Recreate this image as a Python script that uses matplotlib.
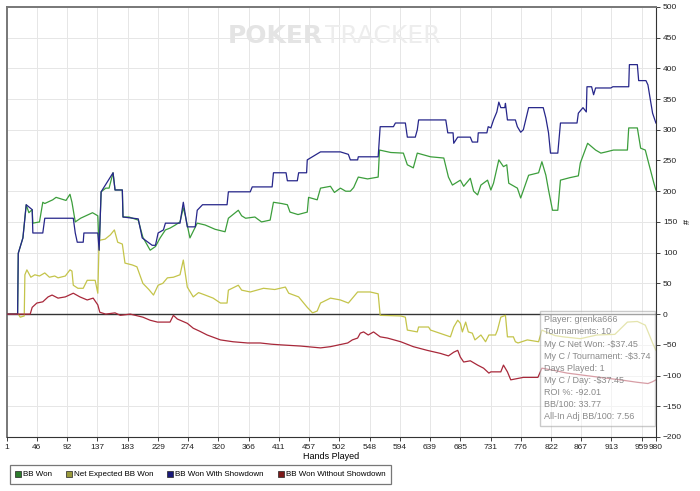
import numpy as np
import matplotlib
matplotlib.use("Agg")
import matplotlib.pyplot as plt
from matplotlib.lines import Line2D

plt.rcParams['font.family'] = ['Liberation Sans Narrow', 'Liberation Sans', 'DejaVu Sans']

# (hand, value) pairs
bb_won = [(1, 0), (17, 0), (18, 99), (25, 124), (30, 178), (34, 165), (39, 170), (40, 148), (50, 150),
          (55, 182), (58, 180), (70, 186), (75, 190), (90, 185), (96, 195), (99, 182), (104, 150),
          (112, 156), (120, 160), (130, 165), (138, 160), (140, 104), (143, 199), (150, 205), (155, 205),
          (161, 230), (164, 202), (175, 202), (176, 158), (185, 158), (199, 153), (206, 125), (217, 104),
          (225, 110), (232, 124), (240, 137), (247, 140), (255, 145), (262, 150), (267, 173), (270, 160),
          (277, 124), (288, 148), (300, 145), (315, 138), (330, 134), (335, 156), (350, 169), (355, 160),
          (361, 156), (375, 158), (385, 150), (398, 153), (403, 182), (415, 180), (424, 178), (428, 166),
          (440, 162), (454, 166), (456, 190), (469, 186), (474, 205), (489, 208), (495, 198), (504, 205),
          (512, 200), (519, 200), (524, 206), (531, 223), (545, 220), (561, 223), (563, 267), (580, 263),
          (599, 262), (605, 243), (614, 238), (620, 262), (640, 256), (660, 254), (667, 223), (673, 210),
          (685, 218), (690, 208), (700, 221), (705, 200), (711, 194), (716, 210), (726, 218), (731, 202),
          (735, 213), (743, 251), (750, 240), (755, 243), (758, 213), (771, 205), (776, 189), (788, 226),
          (803, 230), (808, 248), (814, 226), (818, 202), (824, 169), (832, 169), (836, 218), (850, 222),
          (863, 225), (866, 246), (877, 278), (889, 267), (897, 262), (905, 264), (916, 267), (937, 267),
          (939, 303), (952, 303), (957, 270), (964, 267), (969, 246), (977, 213), (980, 202)]

net_expected = [(1, 0), (18, 0), (21, -5), (27, -3), (28, 64), (31, 72), (37, 60), (43, 64), (50, 62),
                (58, 67), (65, 60), (73, 62), (78, 59), (89, 62), (96, 72), (99, 70), (101, 47), (108, 42),
                (116, 42), (122, 55), (134, 55), (138, 34), (140, 120), (149, 122), (157, 129), (163, 137),
                (168, 117), (175, 114), (179, 83), (190, 80), (197, 77), (206, 50), (215, 40), (222, 31),
                (229, 47), (236, 50), (243, 59), (252, 60), (262, 64), (267, 88), (273, 44), (282, 28),
                (290, 35), (300, 31), (312, 26), (323, 18), (333, 18), (335, 39), (350, 47), (355, 39),
                (368, 36), (388, 42), (405, 40), (421, 44), (426, 34), (441, 28), (454, 11), (462, 2),
                (469, 5), (474, 18), (489, 26), (504, 23), (516, 18), (530, 36), (549, 36), (561, 33),
                (564, -2), (595, -3), (602, -5), (605, -26), (620, -29), (622, -21), (637, -21), (640, -26),
                (670, -37), (675, -21), (681, -10), (685, -15), (688, -29), (693, -13), (697, -29),
                (703, -31), (707, -42), (716, -34), (723, -45), (728, -34), (738, -34), (741, -26),
                (746, -5), (753, -2), (756, -37), (765, -37), (768, -45), (772, -47), (786, -42),
                (803, -45), (808, -26), (816, -30), (828, -35), (840, -37), (866, -40), (891, -34),
                (918, -33), (937, -13), (952, -12), (964, -18), (969, -31), (975, -47), (980, -59)]

with_showdown = [(1, 0), (17, 0), (18, 99), (25, 124), (30, 178), (39, 170), (40, 132), (55, 132),
                 (58, 156), (101, 156), (104, 132), (107, 117), (116, 117), (117, 132), (138, 132),
                 (140, 104), (143, 199), (161, 230), (164, 202), (175, 202), (176, 158), (199, 155),
                 (205, 124), (220, 112), (225, 112), (229, 132), (237, 137), (240, 148), (262, 148),
                 (267, 182), (273, 142), (285, 142), (288, 169), (296, 178), (333, 178), (335, 199),
                 (368, 199), (371, 207), (401, 207), (403, 230), (422, 230), (424, 217), (439, 217),
                 (441, 230), (453, 230), (454, 251), (474, 264), (504, 264), (516, 260), (519, 251),
                 (530, 251), (531, 256), (561, 256), (564, 305), (584, 305), (587, 311), (602, 311),
                 (605, 288), (617, 288), (620, 300), (622, 316), (663, 316), (666, 295), (674, 295),
                 (675, 278), (681, 288), (700, 288), (703, 280), (711, 280), (712, 295), (725, 295),
                 (727, 305), (731, 303), (735, 316), (740, 329), (743, 345), (746, 336), (752, 336),
                 (753, 343), (756, 316), (768, 316), (771, 305), (776, 296), (780, 300), (788, 336),
                 (810, 336), (814, 319), (818, 295), (821, 262), (832, 262), (836, 311), (861, 311),
                 (863, 327), (870, 336), (875, 329), (876, 370), (883, 370), (886, 357), (889, 368),
                 (912, 368), (915, 370), (939, 370), (940, 406), (952, 406), (954, 380), (965, 380),
                 (968, 373), (971, 353), (975, 327), (980, 311)]

without_showdown = [(1, 0), (36, 0), (39, 11), (46, 18), (55, 20), (63, 28), (69, 31), (78, 26), (89, 28),
                    (101, 34), (111, 28), (122, 23), (131, 26), (138, 15), (141, 3), (150, 0), (164, 2),
                    (172, -2), (187, 0), (206, -5), (217, -10), (228, -13), (247, -13), (252, -2),
                    (258, -8), (273, -15), (282, -23), (292, -28), (303, -34), (313, -38), (323, -42),
                    (342, -45), (364, -47), (383, -47), (400, -49), (413, -50), (444, -52), (474, -55),
                    (489, -53), (515, -47), (522, -42), (530, -39), (534, -31), (539, -29), (546, -34),
                    (554, -29), (564, -37), (575, -39), (595, -45), (614, -53), (635, -59), (655, -64),
                    (667, -68), (675, -62), (681, -59), (685, -70), (690, -78), (700, -76), (711, -83),
                    (720, -88), (728, -96), (731, -94), (746, -94), (750, -83), (756, -94), (761, -107),
                    (780, -103), (802, -103), (808, -88), (828, -92), (846, -96), (896, -103),
                    (926, -107), (952, -111), (968, -113), (975, -110), (980, -107)]

x_ticks = [1, 46, 92, 137, 183, 229, 274, 320, 366, 411, 457, 502, 548, 594, 639, 685, 731, 776,
           822, 867, 913, 959, 980]
y_ticks = list(range(-200, 501, 50))

info_lines = ["Player: grenka666", "Tournaments: 10", r"My C Net Won: -\$37.45",
              r"My C / Tournament: -\$3.74", "Days Played: 1", r"My C / Day: -\$37.45",
              "ROI %: -92.01", "BB/100: 33.77", "All-In Adj BB/100: 7.56"]

series = [("BB Won", bb_won, "#3c9e3c", "#2e7d2e"),
          ("Net Expected BB Won", net_expected, "#c4c44a", "#9a9a3c"),
          ("BB Won With Showdown", with_showdown, "#26268a", "#1a1a7a"),
          ("BB Won Without Showdown", without_showdown, "#a8283a", "#7d1a1a")]

fig = plt.figure(figsize=(7, 4.91), dpi=100)
ax = fig.add_axes([0.01, 0.110, 0.927, 0.876])

for name, pts, col, _ in series:
    h, v = zip(*pts)
    ax.plot(h, v, color=col, lw=0.9, zorder=3)

ax.axhline(0, color="#333333", lw=1.0, zorder=2)
ax.set_xlim(1, 980)
ax.set_ylim(-200, 500)
ax.set_xticks(x_ticks)
ax.set_yticks(y_ticks)
ax.grid(True, color="#e6e6e6", lw=0.7)
ax.set_axisbelow(True)
ax.yaxis.tick_right()
ax.yaxis.set_label_position("right")
ax.tick_params(labelsize=6, colors="#222222", length=3, width=0.6, pad=2)
ax.set_ylabel("#", fontsize=6.5, labelpad=1)
ax.set_xlabel("Hands Played", fontsize=6.5, labelpad=1)
for s in ["left", "top"]:
    ax.spines[s].set_color("#777777")
    ax.spines[s].set_linewidth(1.4)
for s in ["right", "bottom"]:
    ax.spines[s].set_color("#333333")
    ax.spines[s].set_linewidth(0.8)

# watermark
ax.text(0.487, 0.933, "POKER", transform=ax.transAxes, ha="right", va="center",
        fontsize=18, fontweight="bold", color="#e4e4e4", zorder=1, family="DejaVu Sans")
ax.text(0.49, 0.933, "TRACKER", transform=ax.transAxes, ha="left", va="center",
        fontsize=18, color="#ededed", zorder=1, family="DejaVu Sans")

# stats box
ax.text(0.828, 0.283, "\n".join(info_lines), transform=ax.transAxes, ha="left", va="top",
        fontsize=6.5, color="#8a8a8a", linespacing=1.45, zorder=5,
        bbox=dict(boxstyle="square,pad=0.45", facecolor="white", alpha=0.55,
                  edgecolor="#a0a0a0", lw=1.0))

handles = [Line2D([], [], ls="none", marker="s", markersize=4.5, markerfacecolor=lc,
                  markeredgecolor="#222222", markeredgewidth=0.5) for _, _, _, lc in series]
leg = fig.legend(handles, [s[0] for s in series], loc="lower left", bbox_to_anchor=(0.008, 0.006),
                 ncol=4, fontsize=5.8, frameon=True, fancybox=False, handletextpad=0.2,
                 columnspacing=1.7, borderpad=0.7, handlelength=0.8)
leg.get_frame().set_edgecolor("#555555")
leg.get_frame().set_linewidth(0.9)

fig.savefig("out.png", dpi=100)
